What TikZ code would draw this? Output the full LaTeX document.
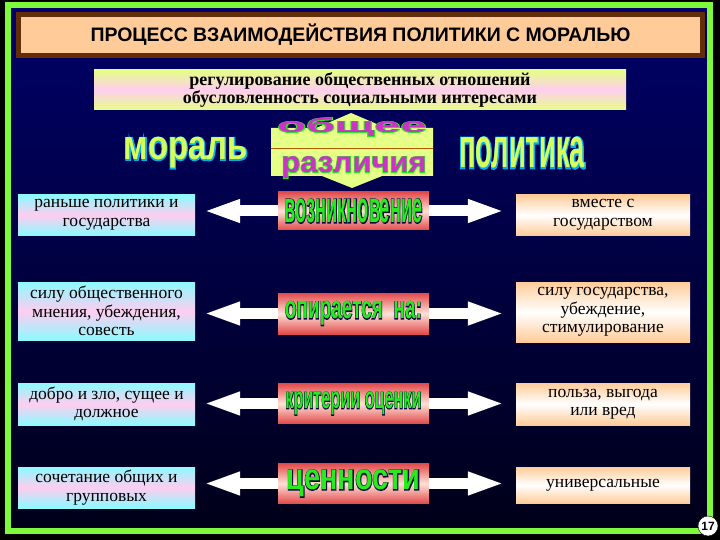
\documentclass[tikz,border=0pt]{standalone}
\usepackage{fontspec,graphicx}
\setmainfont{Liberation Serif}
\newfontfamily\arialfont{Liberation Sans}
\newfontfamily\artfont{Liberation Sans Bold}
\newfontfamily\haloFont[FakeBold=5]{Liberation Sans Bold}
\usetikzlibrary{arrows.meta}
\definecolor{navytop}{RGB}{0,0,105}
\definecolor{navybot}{RGB}{0,0,25}
\definecolor{framegreen}{RGB}{125,250,60}
\definecolor{peach}{RGB}{255,204,153}
\definecolor{barbrown}{RGB}{100,45,10}
\definecolor{lcyan}{RGB}{140,250,255}
\definecolor{lpink}{RGB}{255,205,240}
\definecolor{midred}{RGB}{225,75,75}
\definecolor{midpink}{RGB}{255,225,215}
\definecolor{lime}{RGB}{215,255,90}
\definecolor{palelime}{RGB}{230,255,135}
\definecolor{wordgreen}{RGB}{40,235,30}
\definecolor{wordpink}{RGB}{205,50,200}
\definecolor{darkglow}{RGB}{10,10,60}
% word art: #1 halo colour, #2 fill colour, #3 word
\newcommand{\glow}[3]{{\setbox0\hbox{\artfont #3}\setbox2\hbox{\haloFont\color{#1}#3}%
  \rlap{\kern\dimexpr(\wd0-\wd2)/2\relax\box2}{\color{#2}\box0}}}
\tikzset{leftbox/.style={minimum width=177pt,top color=lcyan,bottom color=lcyan,middle color=lpink,
  align=center,font=\fontsize{17.5}{18.5}\selectfont}}
\tikzset{rightbox/.style={minimum width=174pt,top color=peach,bottom color=peach,middle color=white,
  align=center,font=\fontsize{17.5}{18.5}\selectfont}}
\tikzset{midbox/.style={minimum width=151pt,top color=midred,bottom color=midred,middle color=midpink}}
\tikzset{twoway/.style={draw=white,line width=11pt,-{Triangle[length=37pt,width=21pt]}}}

\begin{document}
\begin{tikzpicture}
                [x=1pt,y=-1pt,every node/.style={inner sep=0pt}]
                \fill[black] (0,0) rectangle (720,540);
                \shade[top color=navytop,bottom color=navybot] (8,5) rectangle (710,531);
                \draw[framegreen,line width=5.5pt] (8,5) rectangle (710,531);
                
                % title bar
                \fill[barbrown] (16,12) rectangle (705,58);
                \node [fill=peach,minimum width=679pt,minimum height=36pt,
                       font=\arialfont\bfseries\fontsize{19.5}{20}\selectfont] (title) at (360.5,35)
                       {ПРОЦЕСС ВЗАИМОДЕЙСТВИЯ ПОЛИТИКИ С МОРАЛЬЮ};
                
                \node [minimum width=532pt,minimum height=40pt,top color=palelime,bottom color=palelime,
                       middle color=lpink,align=center,font=\bfseries\fontsize{18}{18.5}\selectfont] (common) at (360,90)
                       {регулирование общественных отношений\\обусловленность социальными интересами};
                
                % общее / различия
                \fill[palelime] (271,128) -- (316,128) -- (351,113) -- (386,128) -- (433,128) -- (433,176)
                      -- (382,176) -- (352,188) -- (322,176) -- (271,176) -- cycle;
                \draw[orange!70!black,line width=1pt] (271,149) -- (433,149);
                \node (same) at (352,127) {\resizebox*{149pt}{19pt}{\glow{wordgreen}{wordpink}{общее}}};
                \node (diff) at (354,167.5) {\resizebox*{145pt}{22pt}{\glow{wordgreen}{wordpink}{различия}}};
                
                \node (moral) at (186,153) {\resizebox*{124pt}{31pt}{\glow{cyan}{lime}{мораль}}};
                \node (polit) at (522,153) {\resizebox*{126pt}{31pt}{\glow{cyan}{lime}{политика}}};
                
                \node [leftbox,minimum height=40pt] (l1) at (106.5,215) {раньше политики и\\государства};
                \node [leftbox,minimum height=58pt] (l2) at (106.5,311) {силу общественного\\мнения, убеждения,\\совесть};
                \node [leftbox,minimum height=42pt] (l3) at (106.5,404) {добро и зло, сущее и\\должное};
                \node [leftbox,minimum height=41pt] (l4) at (106.5,487.5) {сочетание общих и\\групповых};
                
                \node [midbox,minimum height=38pt] (c1) at (353.5,211) {\resizebox*{138pt}{24pt}{\glow{darkglow}{wordgreen}{возникновение}}};
                \node [midbox,minimum height=41pt] (c2) at (353.5,313.5) {\resizebox*{137pt}{24pt}{\glow{darkglow}{wordgreen}{опирается\ \ на:}}};
                \node [midbox,minimum height=40pt] (c3) at (353.5,403.5) {\resizebox*{136pt}{23pt}{\glow{darkglow}{wordgreen}{критерии оценки}}};
                \node [midbox,minimum height=40pt] (c4) at (353.5,483.5) {\resizebox*{134pt}{27pt}{\glow{darkglow}{wordgreen}{ценности}}};
                
                \node [rightbox,minimum height=40pt] (r1) at (603,215) {вместе с\\государством};
                \node [rightbox,minimum height=60pt] (r2) at (603,312) {силу государства,\\убеждение,\\стимулирование};
                \node [rightbox,minimum height=42pt] (r3) at (603,404) {польза, выгода\\или вред};
                \node [rightbox,minimum height=36pt] (r4) at (603,485) {универсальные};
                
                \foreach \row in {1,...,4}
                \draw[twoway,shorten >=8pt] (c\row.west) -- (c\row.west -| l\row.east);
                
                \foreach \row in {1,...,4}
                \draw[twoway,shorten >=11pt] (c\row.east) -- (c\row.east -| r\row.west);
                
                \node [circle,fill=white,draw=black,minimum size=20pt,
                       font=\arialfont\bfseries\fontsize{12}{12}\selectfont] (page) at (708,526) {17};
            \end{tikzpicture}
\end{document}
